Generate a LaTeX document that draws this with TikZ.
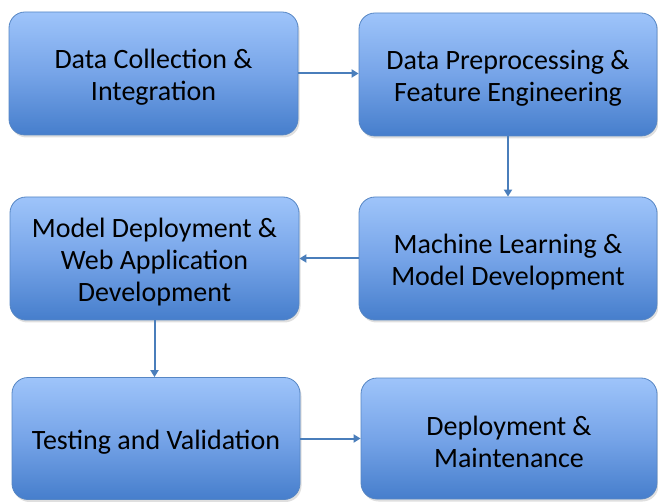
\documentclass[tikz,border=0pt]{standalone}
\usepackage{fontspec}
\setmainfont{Carlito}
\usetikzlibrary{arrows.meta,shadows}
\definecolor{boxtop}{RGB}{158,196,250}
\definecolor{boxmid}{RGB}{118,164,232}
\definecolor{boxbot}{RGB}{70,126,204}
\definecolor{boxline}{RGB}{86,134,196}
\definecolor{arrowblue}{RGB}{74,126,187}
% taller first line, so the text sits a little lower in its box
\newcommand{\firstline}{\rule{0pt}{26pt}}
\begin{document}
\begin{tikzpicture}[x=1pt,y=-1pt,
  stepbox/.style={rounded corners=16pt, draw=boxline, line width=0.8pt,
    top color=boxtop, bottom color=boxbot, middle color=boxmid,
    drop shadow={shadow xshift=1.5pt, shadow yshift=-2.5pt, opacity=0.25},
    inner sep=0pt, align=center, font=\fontsize{28}{32}\selectfont},
  arr/.style={draw=arrowblue, line width=2pt,
    -{Triangle[length=7pt,width=8pt]}}]
  \useasboundingbox (0,0) rectangle (658,502);
  \node[stepbox, minimum width=289pt, minimum height=123pt] (b1) at (153.5,73.5)
    {\firstline Data Collection \&\\Integration};
  \node[stepbox, minimum width=298pt, minimum height=123pt] (b2) at (508,74.5)
    {\firstline Data Preprocessing \&\\Feature Engineering};
  \node[stepbox, minimum width=298pt, minimum height=123pt] (b3) at (508,258.5)
    {\firstline Machine Learning \&\\Model Development};
  \node[stepbox, minimum width=289pt, minimum height=123pt] (b4) at (154.5,258.5)
    {\firstline Model Deployment \&\\Web Application\\Development};
  \node[stepbox, minimum width=288pt, minimum height=122pt] (b5) at (156,438.5)
    {\firstline Testing and Validation};
  \node[stepbox, minimum width=296pt, minimum height=121pt] (b6) at (509,438.5)
    {\firstline Deployment \&\\Maintenance};
  \draw[arr] (b1.east) -- (b1.east -| b2.west);
  \draw[arr] (b2.south) -- (b3.north);
  \draw[arr] (b3.west) -- (b3.west -| b4.east);
  \draw[arr] (b4.south) -- (b4.south |- b5.north);
  \draw[arr] (b5.east) -- (b5.east -| b6.west);
\end{tikzpicture}
\end{document}
